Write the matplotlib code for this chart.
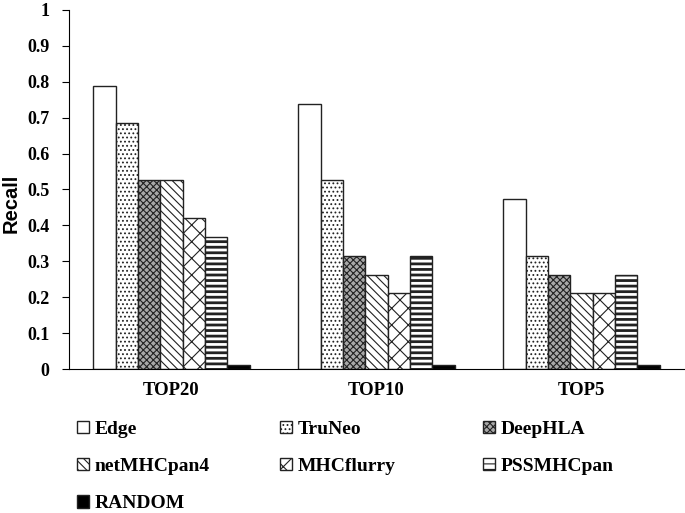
import matplotlib
matplotlib.use("Agg")
import matplotlib.pyplot as plt
import numpy as np

groups = ["TOP20", "TOP10", "TOP5"]
methods = ["Edge", "TruNeo", "DeepHLA", "netMHCpan4", "MHCflurry", "PSSMHCpan", "RANDOM"]
edge = [0.789, 0.737, 0.474]
truneo = [0.684, 0.526, 0.316]
deephla = [0.526, 0.316, 0.263]
netmhcpan4 = [0.526, 0.263, 0.211]
mhcflurry = [0.421, 0.211, 0.211]
pssmhcpan = [0.368, 0.316, 0.263]
random_ = [0.01, 0.01, 0.01]
yticks = [0, 0.1, 0.2, 0.3, 0.4, 0.5, 0.6, 0.7, 0.8, 0.9, 1]

series = [edge, truneo, deephla, netmhcpan4, mhcflurry, pssmhcpan, random_]
hatches = ["", "....", "xxxxx", "\\\\\\\\", "xx", "---", ""]
faces = ["white", "white", "#a8a8a8", "white", "white", "white", "black"]
hatch_lw = [0.8, 0.8, 0.8, 0.8, 0.8, 2.0, 0.8]

plt.rcParams['hatch.linewidth'] = 0.8
serif = "Liberation Serif"

fig = plt.figure(figsize=(6.85, 5.13), dpi=100)
ax = fig.add_axes([0.1007, 0.2807, 0.898, 0.70])

x = np.arange(len(groups))
w = 0.109
handles = []
for i, (vals, name) in enumerate(zip(series, methods)):
    bars = ax.bar(x + (i - 3) * w, vals, w, color=faces[i], edgecolor="#222222",
                  hatch=hatches[i], linewidth=1.0, label=name)
    for b in bars:
        if hasattr(b, "set_hatch_linewidth"):
            b.set_hatch_linewidth(hatch_lw[i])
    handles.append(bars)

ax.set_xlim(-0.5, 2.5)
ax.set_ylim(0, 1)
ax.set_yticks(yticks)
ax.set_yticklabels([f"{t:g}" for t in yticks], fontfamily=serif, fontweight="bold", fontsize=13)
ax.set_xticks(x)
ax.set_xticklabels(groups, fontfamily=serif, fontweight="bold", fontsize=13.5)
ax.tick_params(axis="x", length=0, pad=9)
ax.tick_params(axis="y", length=5, direction="out", pad=9)
ax.spines["top"].set_visible(False)
ax.spines["right"].set_visible(False)
ax.set_ylabel("Recall", fontfamily="Liberation Sans", fontweight="bold", fontsize=14.5)
ax.yaxis.set_label_coords(-0.079, 0.462)

# legend: three columns placed by hand, filled row by row
col_x = [77, 280, 483]
for j in range(3):
    idx = list(range(j, len(methods), 3))
    leg = fig.legend([handles[k] for k in idx], [methods[k] for k in idx],
                     loc="upper left", bbox_to_anchor=(col_x[j] / 685, 0.18),
                     frameon=False, borderpad=0, borderaxespad=0,
                     prop={"family": serif, "weight": "bold", "size": 14},
                     handlelength=0.62, handleheight=0.62, handletextpad=0.3,
                     labelspacing=1.03)

fig.savefig("out.png", dpi=100)
